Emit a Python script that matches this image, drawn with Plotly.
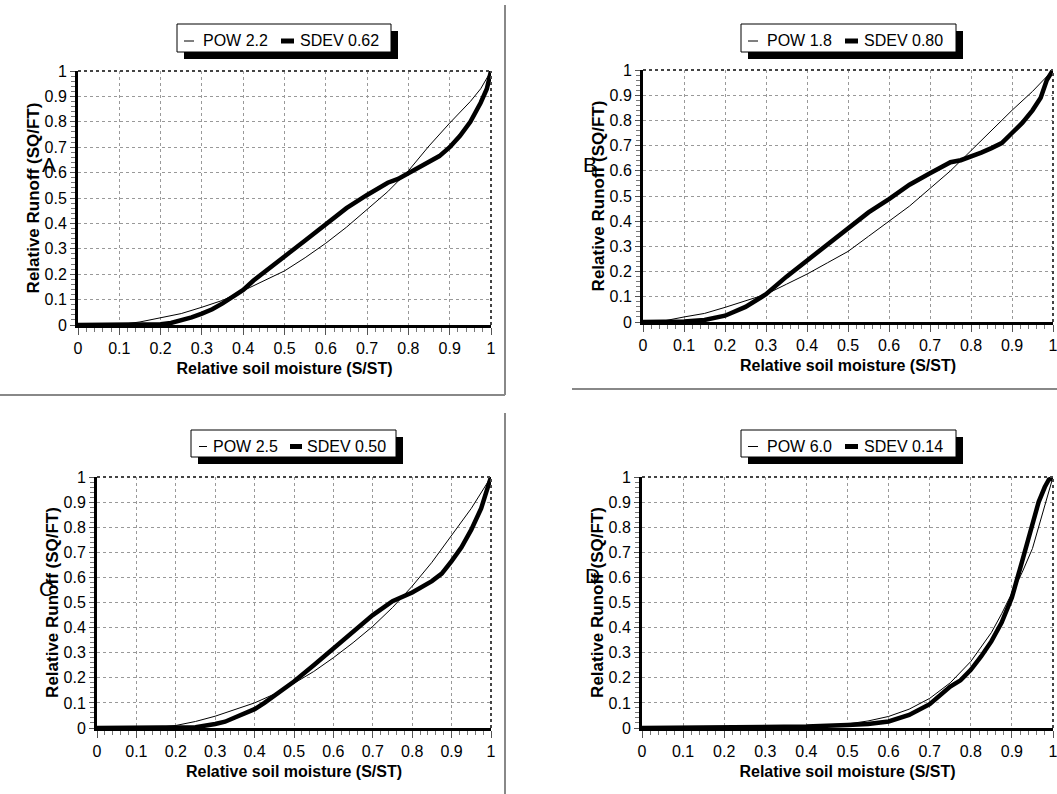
import plotly.graph_objects as go

W, H = 1057, 794

# ---------------- data ----------------
tick_vals = [0, 0.1, 0.2, 0.3, 0.4, 0.5, 0.6, 0.7, 0.8, 0.9, 1.0]
tick_text = ["0", "0.1", "0.2", "0.3", "0.4", "0.5", "0.6", "0.7", "0.8", "0.9", "1"]

# Panel A
xa_pow = [0, 0.1, 0.15, 0.2, 0.25, 0.3, 0.35, 0.4, 0.45, 0.5, 0.55, 0.6, 0.65, 0.7, 0.75, 0.8, 0.85, 0.9, 0.95, 0.975, 1.0]
ya_pow = [0, 0.001, 0.012, 0.028, 0.045, 0.07, 0.097, 0.135, 0.175, 0.213, 0.265, 0.322, 0.385, 0.455, 0.525, 0.607, 0.705, 0.795, 0.88, 0.93, 1.0]
xa_sd = [0, 0.15, 0.2, 0.225, 0.25, 0.275, 0.3, 0.325, 0.35, 0.375, 0.4, 0.425, 0.45, 0.5, 0.55, 0.6, 0.65, 0.7, 0.725, 0.75, 0.775, 0.8, 0.825, 0.85, 0.875, 0.9, 0.925, 0.95, 0.975, 0.99, 1.0]
ya_sd = [0, 0, 0.003, 0.008, 0.017, 0.03, 0.045, 0.062, 0.085, 0.11, 0.138, 0.175, 0.205, 0.27, 0.333, 0.398, 0.46, 0.512, 0.535, 0.56, 0.575, 0.597, 0.62, 0.643, 0.665, 0.7, 0.745, 0.8, 0.875, 0.93, 1.0]

# Panel B
xb_pow = [0, 0.05, 0.1, 0.15, 0.2, 0.25, 0.3, 0.35, 0.4, 0.45, 0.5, 0.55, 0.6, 0.65, 0.7, 0.75, 0.8, 0.85, 0.9, 0.95, 0.98, 1.0]
yb_pow = [0, 0.004, 0.02, 0.034, 0.058, 0.085, 0.11, 0.15, 0.19, 0.235, 0.28, 0.34, 0.4, 0.46, 0.53, 0.6, 0.68, 0.76, 0.84, 0.915, 0.965, 1.0]
xb_sd = [0, 0.1, 0.15, 0.2, 0.25, 0.3, 0.35, 0.4, 0.45, 0.5, 0.55, 0.6, 0.65, 0.7, 0.75, 0.775, 0.8, 0.825, 0.85, 0.875, 0.9, 0.925, 0.95, 0.97, 0.985, 1.0]
yb_sd = [0, 0.002, 0.008, 0.025, 0.06, 0.11, 0.18, 0.245, 0.31, 0.373, 0.435, 0.488, 0.545, 0.59, 0.634, 0.642, 0.655, 0.672, 0.69, 0.71, 0.75, 0.79, 0.84, 0.89, 0.96, 1.0]

# Panel C
xc_pow = [0, 0.15, 0.2, 0.25, 0.3, 0.35, 0.4, 0.45, 0.5, 0.55, 0.6, 0.65, 0.7, 0.75, 0.8, 0.85, 0.9, 0.95, 1.0]
yc_pow = [0, 0.002, 0.01, 0.026, 0.047, 0.072, 0.1, 0.135, 0.178, 0.225, 0.28, 0.34, 0.405, 0.48, 0.565, 0.66, 0.765, 0.875, 1.0]
xc_sd = [0, 0.25, 0.3, 0.325, 0.35, 0.4, 0.425, 0.45, 0.5, 0.55, 0.6, 0.65, 0.7, 0.75, 0.8, 0.85, 0.875, 0.9, 0.925, 0.95, 0.975, 1.0]
yc_sd = [0, 0.003, 0.016, 0.025, 0.042, 0.075, 0.1, 0.128, 0.185, 0.25, 0.315, 0.38, 0.45, 0.505, 0.54, 0.585, 0.615, 0.665, 0.72, 0.79, 0.875, 1.0]

# Panel D
xd_pow = [0, 0.2, 0.3, 0.4, 0.5, 0.55, 0.6, 0.65, 0.7, 0.75, 0.8, 0.85, 0.875, 0.9, 0.925, 0.95, 0.975, 1.0]
yd_pow = [0, 0.002, 0.004, 0.006, 0.016, 0.028, 0.046, 0.075, 0.118, 0.18, 0.265, 0.38, 0.455, 0.54, 0.62, 0.715, 0.86, 1.0]
xd_sd = [0, 0.22, 0.4, 0.5, 0.55, 0.6, 0.65, 0.7, 0.725, 0.75, 0.775, 0.8, 0.825, 0.85, 0.875, 0.9, 0.925, 0.95, 0.965, 0.98, 0.99, 1.0]
yd_sd = [0, 0.003, 0.006, 0.012, 0.016, 0.026, 0.052, 0.095, 0.128, 0.165, 0.19, 0.232, 0.285, 0.345, 0.42, 0.52, 0.665, 0.81, 0.9, 0.96, 0.99, 0.995]

panel_letters = ["A", "B", "C", "D"]
pow_names = ["POW 2.2", "POW 1.8", "POW 2.5", "POW 6.0"]
sd_names = ["SDEV 0.62", "SDEV 0.80", "SDEV 0.50", "SDEV 0.14"]
x_title = "Relative soil moisture (S/ST)"
y_title = "Relative Runoff (SQ/FT)"

series = [
    (xa_pow, ya_pow, xa_sd, ya_sd),
    (xb_pow, yb_pow, xb_sd, yb_sd),
    (xc_pow, yc_pow, xc_sd, yc_sd),
    (xd_pow, yd_pow, xd_sd, yd_sd),
]

# ---------------- layout geometry (pixels) ----------------
plot_px = [  # left, right, top, bottom
    (78, 491, 71, 325),
    (643, 1053, 70, 322),
    (97, 491, 477, 728),
    (642, 1053, 477, 728),
]
# legend: left, top, width, height, thin sample x0/x1, text1 x, thick sample x0/x1, text2 x (offsets from left)
legend_geo = [
    (177, 24, 214, 28, 7, 17, 24, 104, 117, 121),
    (741, 24, 215, 28, 7, 17, 24, 104, 117, 121),
    (191, 430, 205, 27, 8, 16, 20, 99, 111, 114),
    (741, 430, 215, 27, 7, 17, 24, 104, 117, 121),
]
letter_px = [(49, 165), (590, 165), (46, 588), (592, 575)]


def px_x(p):
    return p / W


def px_y(p):
    return 1 - p / H


FAM = "Liberation Sans, Arial, sans-serif"
TICK_FONT = dict(family=FAM, size=16, color="black")
XTITLE_FONT = dict(family=FAM, size=16, color="black")
YTITLE_FONT = dict(family=FAM, size=17, color="black")
LEG_FONT = dict(family=FAM, size=16, color="black")

fig = go.Figure()
shapes = []
annotations = []
layout = {}

for i in range(4):
    n = "" if i == 0 else str(i + 1)
    xa, ya = "x" + n, "y" + n
    xp, yp, xs, ys = series[i]
    fig.add_trace(go.Scatter(x=xp, y=yp, mode="lines", name=pow_names[i],
                             line=dict(color="black", width=1),
                             xaxis=xa, yaxis=ya, showlegend=False))
    fig.add_trace(go.Scatter(x=xs, y=ys, mode="lines", name=sd_names[i],
                             line=dict(color="black", width=4.5),
                             xaxis=xa, yaxis=ya, showlegend=False))

    l, r, t, b = plot_px[i]
    layout["xaxis" + n] = dict(
        domain=[px_x(l), px_x(r)], range=[0, 1], anchor=ya, automargin=False,
        tickmode="array", tickvals=tick_vals, ticktext=tick_text,
        ticklabeloverflow="allow",
        ticks="outside", ticklen=7, tickwidth=1, tickcolor="#555",
        minor=dict(dtick=0.02, tick0=0, ticks="outside", ticklen=4, tickcolor="#777", showgrid=False),
        showline=True, linecolor="black", linewidth=3,
        showgrid=True, gridcolor="#999", griddash="dot", gridwidth=1,
        zeroline=False, tickfont=TICK_FONT,
        title=dict(text="<b>" + x_title + "</b>", font=XTITLE_FONT, standoff=7),
        fixedrange=True,
    )
    layout["yaxis" + n] = dict(
        domain=[px_y(b), px_y(t)], range=[0, 1], anchor=xa, automargin=False,
        tickmode="array", tickvals=tick_vals, ticktext=tick_text,
        ticklabeloverflow="allow",
        ticks="outside", ticklen=5, tickwidth=1, tickcolor="#555",
        minor=dict(dtick=0.02, tick0=0, ticks="outside", ticklen=4, tickcolor="#777", showgrid=False),
        showline=True, linecolor="black", linewidth=3,
        showgrid=True, gridcolor="#999", griddash="dot", gridwidth=1,
        zeroline=False, tickfont=TICK_FONT,
        title=dict(text="<b>" + y_title + "</b>", font=YTITLE_FONT, standoff=1),
        fixedrange=True,
    )

    # ---- legend box (drawn by hand: shadow, frame, samples, labels) ----
    L, T, bw, bh, s1a, s1b, t1, s2a, s2b, t2 = legend_geo[i]
    shapes.append(dict(type="rect", xref="paper", yref="paper",
                       x0=px_x(L + 7), x1=px_x(L + bw + 7), y0=px_y(T + bh + 7), y1=px_y(T + 7),
                       fillcolor="black", line=dict(width=0), layer="above"))
    shapes.append(dict(type="rect", xref="paper", yref="paper",
                       x0=px_x(L), x1=px_x(L + bw), y0=px_y(T + bh), y1=px_y(T),
                       fillcolor="white", line=dict(color="black", width=1), layer="above"))
    cy = T + bh / 2 + 3
    shapes.append(dict(type="line", xref="paper", yref="paper",
                       x0=px_x(L + s1a), x1=px_x(L + s1b), y0=px_y(cy), y1=px_y(cy),
                       line=dict(color="black", width=1), layer="above"))
    shapes.append(dict(type="line", xref="paper", yref="paper",
                       x0=px_x(L + s2a), x1=px_x(L + s2b), y0=px_y(cy), y1=px_y(cy),
                       line=dict(color="black", width=5), layer="above"))
    annotations.append(dict(text=pow_names[i], xref="paper", yref="paper",
                            x=px_x(L + t1), y=px_y(cy), xanchor="left", yanchor="middle",
                            showarrow=False, font=LEG_FONT))
    annotations.append(dict(text=sd_names[i], xref="paper", yref="paper",
                            x=px_x(L + t2), y=px_y(cy), xanchor="left", yanchor="middle",
                            showarrow=False, font=LEG_FONT))

    # dotted top and right frame
    shapes.append(dict(type="line", xref=xa + " domain", yref=ya + " domain",
                       x0=0, x1=1, y0=1, y1=1, line=dict(color="#444", width=2, dash="dot"), layer="above"))
    shapes.append(dict(type="line", xref=xa + " domain", yref=ya + " domain",
                       x0=1, x1=1, y0=0, y1=1, line=dict(color="#444", width=2, dash="dot"), layer="above"))
    # panel letter
    lx, ly = letter_px[i]
    annotations.append(dict(text=panel_letters[i], xref="paper", yref="paper",
                            x=px_x(lx), y=px_y(ly), xanchor="center", yanchor="middle",
                            showarrow=False, font=dict(family=FAM, size=21, color="black")))

# separator lines between panels
sep = [((505, 5), (505, 395)), ((0, 395), (505, 395)), ((572, 389), (1057, 389)), ((505, 413), (505, 794))]
for (x0, y0), (x1, y1) in sep:
    shapes.append(dict(type="line", xref="paper", yref="paper",
                       x0=px_x(x0), x1=px_x(x1), y0=px_y(y0), y1=px_y(y1),
                       line=dict(color="#888", width=2)))

fig.update_layout(width=W, height=H, margin=dict(l=0, r=0, t=0, b=0, autoexpand=False),
                  paper_bgcolor="white", plot_bgcolor="white", showlegend=False,
                  shapes=shapes, annotations=annotations, **layout)

fig.write_html("out.html", config={"displayModeBar": False},
               post_script="document.body.style.margin='0px';")
